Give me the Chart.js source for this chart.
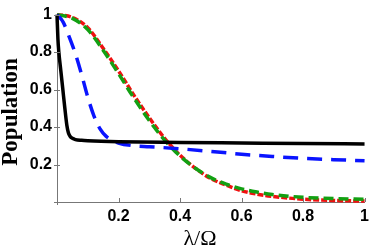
<!DOCTYPE html>
<html>
<head>
<meta charset="utf-8">
<script src="https://cdn.jsdelivr.net/npm/chart.js@4"></script>
<style>
html,body{margin:0;padding:0;background:#fff;}
#wrap{width:374px;height:248px;}
</style>
</head>
<body>
<div id="wrap"><canvas id="c" width="374" height="248"></canvas></div>
<script>
// Data
const blackX = [0, 0.003, 0.006, 0.0125, 0.019, 0.0255, 0.032, 0.037, 0.043, 0.05, 0.06, 0.08, 0.1, 0.2, 0.4, 0.6, 0.8, 1];
const blackY = [1, 0.87, 0.8, 0.7, 0.6, 0.5, 0.41, 0.37, 0.35, 0.34, 0.333, 0.329, 0.327, 0.322, 0.318, 0.315, 0.312, 0.31];

const blueX = [0, 0.02, 0.04, 0.06, 0.08, 0.10, 0.12, 0.14, 0.16, 0.18, 0.2, 0.25, 0.3, 0.4, 0.5, 0.6, 0.7, 0.8, 0.9, 1];
const blueY = [1, 0.96, 0.88, 0.79, 0.68, 0.56, 0.46, 0.39, 0.35, 0.33, 0.315, 0.30, 0.295, 0.284, 0.27, 0.255, 0.243, 0.233, 0.226, 0.22];

const redX = [0, 0.05, 0.1, 0.15, 0.2, 0.25, 0.3, 0.35, 0.4, 0.45, 0.5, 0.55, 0.6, 0.65, 0.7, 0.8, 0.9, 1];
const redY = [1, 0.985, 0.93, 0.82, 0.70, 0.57, 0.45, 0.34, 0.25, 0.18, 0.125, 0.09, 0.06, 0.042, 0.03, 0.015, 0.008, 0.005];

const greenX = [0, 0.05, 0.1, 0.15, 0.2, 0.25, 0.3, 0.35, 0.4, 0.45, 0.5, 0.55, 0.6, 0.65, 0.7, 0.8, 0.9, 1];
const greenY = [1, 0.98, 0.92, 0.81, 0.685, 0.555, 0.435, 0.33, 0.245, 0.18, 0.13, 0.095, 0.07, 0.053, 0.04, 0.025, 0.018, 0.015];

const xTicks = [0.2, 0.4, 0.6, 0.8, 1];
const yTicks = [0.2, 0.4, 0.6, 0.8, 1];
const xTitle = 'λ/Ω';
const yTitle = 'Population';

function pts(xs, ys){ return xs.map((x,i)=>({x:x, y:ys[i]})); }
function fmt(v){ if (Math.abs(v) < 1e-9) return ''; if (Math.abs(v-1) < 1e-9) return '1'; return v.toFixed(1); }

const AX = '#777';

const decor = {
  id: 'decor',
  afterDraw(chart){
    const ctx = chart.ctx, xs = chart.scales.x, ys = chart.scales.y, ca = chart.chartArea;
    ctx.save();
    ctx.strokeStyle = AX; ctx.lineWidth = 1;
    ctx.beginPath();
    xTicks.forEach(v=>{ const p = Math.round(xs.getPixelForValue(v))+0.5; ctx.moveTo(p, ca.bottom); ctx.lineTo(p, ca.bottom-4); });
    yTicks.forEach(v=>{ const p = Math.round(ys.getPixelForValue(v))+0.5; ctx.moveTo(ca.left-3, p); ctx.lineTo(ca.left+3, p); });
    // small extension of the axes past the origin
    ctx.moveTo(ca.left+0.5, ca.bottom); ctx.lineTo(ca.left+0.5, ca.bottom+3);
    ctx.moveTo(ca.left-3, ca.bottom+0.5); ctx.lineTo(ca.left, ca.bottom+0.5);
    ctx.stroke();
    ctx.fillStyle = '#000';
    ctx.font = '22px "Liberation Serif", "DejaVu Serif", serif';
    ctx.textAlign = 'center'; ctx.textBaseline = 'alphabetic';
    ctx.fillText(xTitle, 200, 245);
    ctx.translate(17, 112);
    ctx.rotate(-Math.PI/2);
    ctx.font = 'bold 23px "Liberation Serif", "DejaVu Serif", serif';
    ctx.fillText(yTitle, 0, 0);
    ctx.restore();
  }
};

new Chart(document.getElementById('c'), {
  type: 'line',
  data: {
    datasets: [
      {data: pts(blackX, blackY), borderColor:'#000', borderWidth:3.5, pointRadius:0, cubicInterpolationMode:'monotone', clip:false},
      {data: pts(blueX, blueY), borderColor:'#0a14ff', borderWidth:3.5, borderDash:[15,9], pointRadius:0, cubicInterpolationMode:'monotone', clip:false},
      {data: pts(greenX, greenY), borderColor:'#12a012', borderWidth:3.5, borderDash:[10,5], pointRadius:0, cubicInterpolationMode:'monotone', clip:false},
      {data: pts(redX, redY), borderColor:'#f01010', borderWidth:3.5, borderDash:[6,2], pointRadius:0, cubicInterpolationMode:'monotone', clip:false}
    ]
  },
  options: {
    responsive:false, animation:false, devicePixelRatio:1,
    layout:{padding:{top:12, right:6, left:0, bottom:0}},
    plugins:{legend:{display:false}, tooltip:{enabled:false}},
    scales:{
      x:{type:'linear', min:0, max:1,
         grid:{display:false, drawTicks:false},
         border:{display:true, color:AX, width:1},
         afterFit(s){ s.height = 46; },
         afterBuildTicks(s){ s.ticks = xTicks.map(v=>({value:v})); },
         ticks:{callback:fmt, padding:5, maxRotation:0, autoSkip:false, color:'#000', font:{family:'"Liberation Sans", Arial, sans-serif', size:16, weight:'bold'}}},
      y:{type:'linear', min:0, max:1,
         grid:{display:false, drawTicks:false},
         border:{display:true, color:AX, width:1},
         afterFit(s){ s.width = 57; },
         afterBuildTicks(s){ s.ticks = yTicks.map(v=>({value:v})); },
         ticks:{callback:fmt, padding:5, autoSkip:false, color:'#000', font:{family:'"Liberation Sans", Arial, sans-serif', size:16, weight:'bold'}}}
    }
  },
  plugins:[decor]
});
</script>
</body>
</html>
